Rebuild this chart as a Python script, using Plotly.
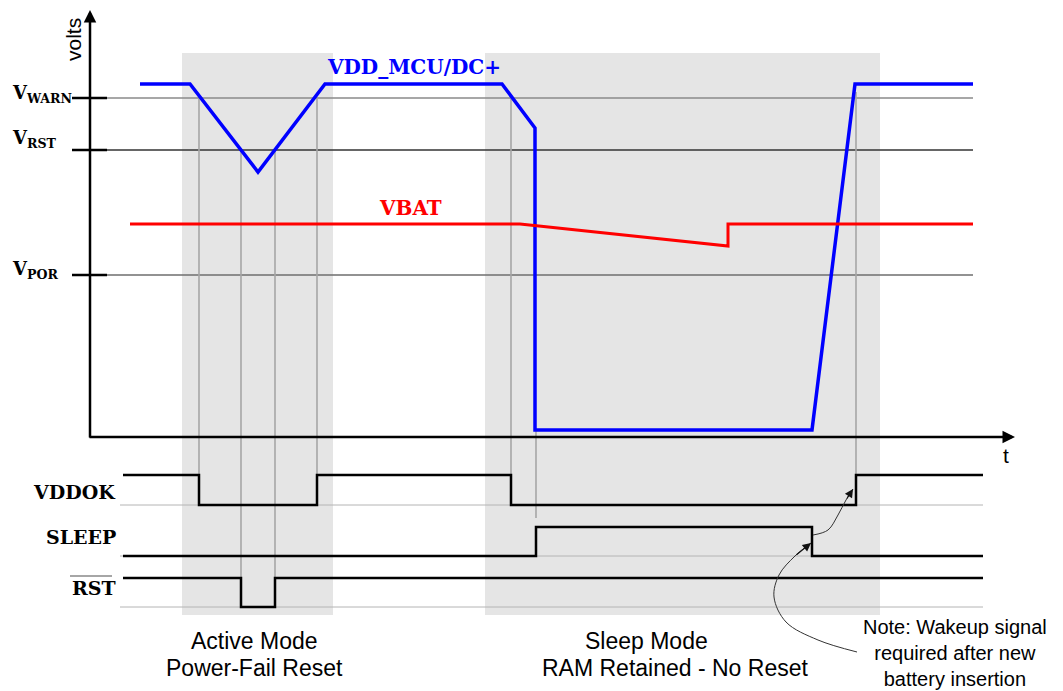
"""Power-fail / sleep-mode timing diagram."""
import plotly.graph_objects as go

# analog waveforms (time to the right, level downward in picture units)
vdd_t = [140, 190, 258, 325, 502, 535, 535, 812, 855, 973]
vdd_v = [84, 84, 172, 84, 84, 128, 430, 430, 84, 84]
vbat_t = [130, 520, 728, 728, 973]
vbat_v = [224, 224, 246, 224, 224]

level_names = ["V<sub>WARN</sub>", "V<sub>RST</sub>", "V<sub>POR</sub>"]
level_values = [98, 150, 275]
level_colors = ["#8a8a8a", "#333333", "#6e6e6e"]

# digital signals
signal_names = ["VDDOK", "SLEEP", "RST"]
signal_high = [475, 527, 578]
signal_low = [505, 556, 607]
signal_edges = [
    [123, 199, 317, 511, 856, 983],
    [123, 536, 812, 983],
    [123, 241, 275, 983],
]
signal_states = [
    [1, 0, 1, 0, 1, 1],
    [0, 1, 0, 0],
    [1, 0, 1, 1],
]

# event markers: time, top level, bottom level
event_t = [199, 241, 275, 317, 511, 536, 856]
event_top = [98, 150, 150, 98, 98, 430, 92]
event_bottom = [505, 607, 607, 505, 505, 518, 476]

# mode windows
mode_start = [182, 485]
mode_end = [333, 880]
mode_labels = [["Active Mode", "Power-Fail Reset"],
               ["Sleep Mode", "RAM Retained - No Reset"]]

note_lines = ["Note: Wakeup signal", "required after new", "battery insertion"]
curve1_t = [857, 818, 786, 774, 779, 795, 811]
curve1_v = [652, 640, 622, 597, 575, 556, 543]
curve2_t = [813, 828, 838, 846, 853]
curve2_v = [535, 530, 515, 500, 489]

SERIF = "DejaVu Serif"
SANS = "Liberation Sans"
PAD = 8  # page body margin

fig = go.Figure()

# shaded mode windows
for x0, x1 in zip(mode_start, mode_end):
    fig.add_shape(type="rect", x0=x0, x1=x1, y0=53, y1=615, layer="below",
                  fillcolor="#e5e5e5", line=dict(width=0))

# light baselines under digital signals
for lo in signal_low:
    fig.add_trace(go.Scatter(x=[120, 983], y=[lo, lo], mode="lines",
                             line=dict(color="#b4b4b4", width=1)))

# threshold levels: tick + reference line
for lvl, col in zip(level_values, level_colors):
    fig.add_trace(go.Scatter(x=[107, 973], y=[lvl, lvl], mode="lines",
                             line=dict(color=col, width=1.3)))
    fig.add_trace(go.Scatter(x=[72, 107], y=[lvl, lvl], mode="lines",
                             line=dict(color="black", width=2.5)))

# event marker lines
for t, top, bot in zip(event_t, event_top, event_bottom):
    fig.add_trace(go.Scatter(x=[t, t], y=[top, bot], mode="lines",
                             line=dict(color="#a6a6a6", width=1.6)))

# digital signal traces
for edges, states, hi, lo in zip(signal_edges, signal_states, signal_high, signal_low):
    fig.add_trace(go.Scatter(x=edges, y=[hi if s else lo for s in states],
                             mode="lines", line_shape="hv",
                             line=dict(color="black", width=2.5)))

# analog traces
fig.add_trace(go.Scatter(x=vdd_t, y=vdd_v, mode="lines",
                         line=dict(color="#0000ff", width=3.5)))
fig.add_trace(go.Scatter(x=vbat_t, y=vbat_v, mode="lines",
                         line=dict(color="#ff0000", width=3)))

# curved note arrows
for ct, cv in [(curve1_t, curve1_v), (curve2_t, curve2_v)]:
    fig.add_trace(go.Scatter(x=ct, y=cv, mode="lines", line_shape="spline",
                             line=dict(color="#333333", width=1)))
    fig.add_annotation(x=ct[-1], y=cv[-1], ax=ct[-2], ay=cv[-2], axref="x", ayref="y",
                       text="", showarrow=True, arrowhead=2, arrowsize=1.4,
                       arrowwidth=1.2, arrowcolor="#111111", standoff=0)

# axes with arrows
fig.add_annotation(x=90, y=10, ax=90, ay=439, axref="x", ayref="y", text="",
                   showarrow=True, arrowhead=2, arrowsize=1, arrowwidth=2.5,
                   arrowcolor="black", standoff=0)
fig.add_annotation(x=1015, y=437, ax=88, ay=437, axref="x", ayref="y", text="",
                   showarrow=True, arrowhead=2, arrowsize=1, arrowwidth=2.5,
                   arrowcolor="black", standoff=0)
fig.add_annotation(x=73, y=40, text="volts", showarrow=False, textangle=-90,
                   font=dict(family=SANS, size=21, color="black"))
fig.add_annotation(x=1006, y=455, text="t", showarrow=False,
                   font=dict(family=SANS, size=21, color="black"))

# level labels
for name, y in zip(level_names, [94, 139, 270]):
    fig.add_annotation(x=10, y=y, text="<b>" + name + "</b>", showarrow=False,
                       xanchor="left", yanchor="middle",
                       font=dict(family=SERIF, size=18, color="black"))

# signal labels
for name, y in zip(signal_names, [492, 537, 588]):
    fig.add_annotation(x=118, y=y, text="<b>" + name + "</b>", showarrow=False,
                       xanchor="right", yanchor="middle",
                       font=dict(family=SERIF, size=19, color="black"))
fig.add_shape(type="line", x0=70, x1=112, y0=576, y1=576,
              line=dict(color="#888888", width=1.5))

# waveform names
fig.add_annotation(x=414, y=67, text="<b>VDD_MCU/DC+</b>", showarrow=False,
                   font=dict(family=SERIF, size=20, color="#0000ff"))
fig.add_annotation(x=410, y=208, text="<b>VBAT</b>", showarrow=False,
                   font=dict(family=SERIF, size=20, color="#ff0000"))

# mode labels
for labels, xs in zip(mode_labels, [[254, 254], [646, 675]]):
    for text, x, y in zip(labels, xs, [641, 668]):
        fig.add_annotation(x=x, y=y, text=text, showarrow=False,
                           font=dict(family=SANS, size=23, color="black"))

fig.add_annotation(x=955, y=653, text="<br>".join(note_lines), showarrow=False,
                   font=dict(family=SANS, size=20, color="black"))

fig.update_layout(
    width=1063 - PAD, height=691 - PAD, autosize=False,
    margin=dict(l=0, r=0, t=0, b=0),
    paper_bgcolor="white", plot_bgcolor="white",
    showlegend=False, hovermode=False,
    xaxis=dict(range=[PAD, 1063], visible=False, fixedrange=True),
    yaxis=dict(range=[691, PAD], visible=False, fixedrange=True),
)
fig.write_html("out.html")
